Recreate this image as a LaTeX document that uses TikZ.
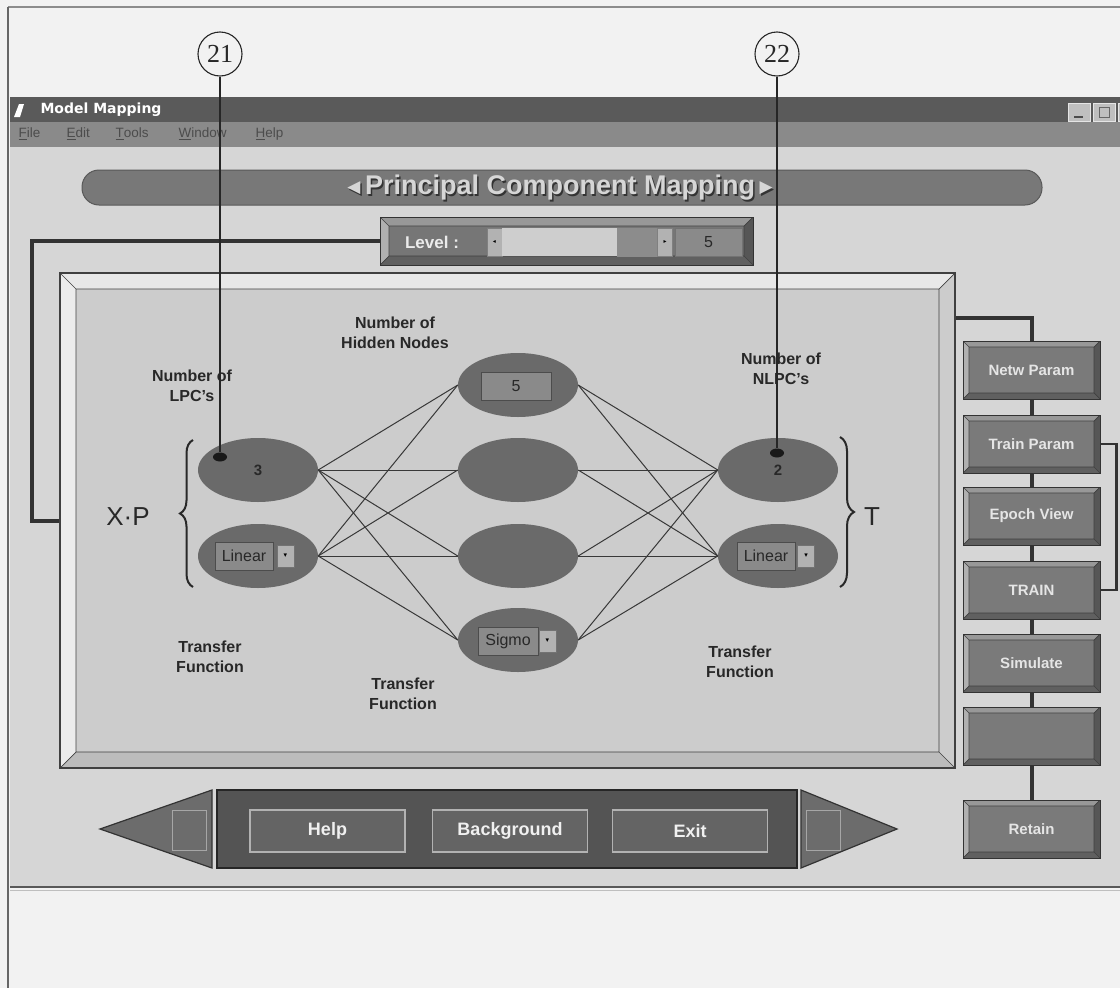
\documentclass[tikz,border=0pt]{standalone}
\usepackage{fontspec}
\setmainfont{Liberation Sans}
\newfontfamily\numfont{Liberation Serif}
\newfontfamily\symfont{DejaVu Sans}
\usetikzlibrary{shapes.geometric,decorations.pathreplacing}
\definecolor{topwhite}{RGB}{242, 242, 242}
\definecolor{winbg}{RGB}{214, 214, 214}
\definecolor{panelbg}{RGB}{204, 204, 204}
\definecolor{titlebar}{RGB}{90, 90, 90}
\definecolor{menubar}{RGB}{138, 138, 138}
\definecolor{nodegray}{RGB}{106, 106, 106}
\definecolor{pillgray}{RGB}{120, 120, 120}
\definecolor{btnface}{RGB}{122, 122, 122}
\definecolor{btnN}{RGB}{152, 152, 152}
\definecolor{btnW}{RGB}{176, 176, 176}
\definecolor{btnS}{RGB}{96, 96, 96}
\definecolor{btnE}{RGB}{86, 86, 86}
\definecolor{frN}{RGB}{232, 232, 232}
\definecolor{frW}{RGB}{236, 236, 236}
\definecolor{frS}{RGB}{188, 188, 188}
\definecolor{frE}{RGB}{204, 204, 204}
\definecolor{lvlface}{RGB}{118, 118, 118}
\definecolor{dropgray}{RGB}{138, 138, 138}
\definecolor{dropbtngray}{RGB}{178, 178, 178}
\definecolor{troughgray}{RGB}{206, 206, 206}
\definecolor{thumbgray}{RGB}{140, 140, 140}
\definecolor{navdark}{RGB}{84, 84, 84}
\definecolor{navbtngray}{RGB}{100, 100, 100}
\definecolor{navgray}{RGB}{108, 108, 108}
\definecolor{inkgray}{RGB}{40, 40, 40}

\tikzset{
  bevel colors/.code n args={4}{\colorlet{bvN}{#1}\colorlet{bvW}{#2}\colorlet{bvS}{#3}\colorlet{bvE}{#4}},
  bevel/.style={draw=black!80, line width=0.8pt, inner sep=0pt,
    path picture={
      \coordinate (bA) at (path picture bounding box.north west);
      \coordinate (bB) at (path picture bounding box.north east);
      \coordinate (bC) at (path picture bounding box.south east);
      \coordinate (bD) at (path picture bounding box.south west);
      \coordinate (iA) at ([shift={(#1pt,-#1pt)}]bA);
      \coordinate (iB) at ([shift={(-#1pt,-#1pt)}]bB);
      \coordinate (iC) at ([shift={(-#1pt,#1pt)}]bC);
      \coordinate (iD) at ([shift={(#1pt,#1pt)}]bD);
      \fill[bvN] (bA) -- (bB) -- (iB) -- (iA) -- cycle;
      \fill[bvW] (bA) -- (iA) -- (iD) -- (bD) -- cycle;
      \fill[bvS] (bD) -- (iD) -- (iC) -- (bC) -- cycle;
      \fill[bvE] (bB) -- (bC) -- (iC) -- (iB) -- cycle;
      \draw[black!75, line width=0.7pt] (iA) rectangle (iC)
        (bA) -- (iA) (bB) -- (iB) (bC) -- (iC) (bD) -- (iD);
    }},
  btn/.style={bevel=6, bevel colors={btnN}{btnW}{btnS}{btnE}, fill=btnface,
    minimum width=137, minimum height=58, text=white!90!black,
    font=\fontsize{15}{18}\selectfont\bfseries},
  unit/.style={ellipse, fill=nodegray, minimum width=120, minimum height=64,
    inner sep=0pt, font=\fontsize{15}{16}\selectfont\bfseries, text=inkgray},
  lbl/.style={align=center, font=\fontsize{16}{20}\selectfont\bfseries, text=inkgray},
  link/.style={draw=black!78, line width=1pt},
  dropbox/.style={draw=black!70, fill=dropgray, minimum height=28, inner sep=0pt,
    font=\fontsize{16}{18}\selectfont, text=inkgray},
  dropbtn/.style={draw=black!55, fill=dropbtngray, minimum width=17, minimum height=22,
    inner sep=0pt, font=\symfont\fontsize{7}{8}\selectfont},
  wire/.style={draw=black!80, line width=4pt},
  pin/.style={draw=black!85, line width=1.1pt},
  navbtn/.style={draw=black!30, line width=1.2pt, fill=navbtngray, minimum width=155,
    minimum height=42, text=white!94!black, font=\fontsize{18}{20}\selectfont\bfseries},
  menu/.style={anchor=west, text=black!70, font=\fontsize{13.5}{15}\selectfont},
  winbtn/.style={draw=white!90!black, fill=black!25, minimum width=22, minimum height=18, inner sep=0pt},
  sliderbtn/.style={draw=black!50, fill=dropbtngray, minimum width=15, minimum height=28,
    inner sep=0pt, font=\symfont\fontsize{6}{7}\selectfont},
  curly/.style={draw=inkgray, line width=2pt, decorate},
}
\newcommand{\ttlleft}{\raisebox{1.5pt}{\symfont\fontsize{17}{17}\selectfont ◀}}
\newcommand{\ttlright}{\raisebox{1.5pt}{\symfont\fontsize{17}{17}\selectfont ▶}}

\begin{document}
\begin{tikzpicture}[x=1pt, y=-1pt]
\useasboundingbox (0,0) rectangle (1120,988);
% window background
\fill[topwhite] (0,0) rectangle (1120,988);
\draw[black!45, line width=1.5pt] (8,7) -- (1120,7);
\fill[titlebar] (10,97) rectangle (1120,122);
\fill[menubar] (10,122) rectangle (1120,147);
\fill[winbg] (10,147) rectangle (1120,886);
\draw[black!65, line width=2pt] (10,887) -- (1120,887);
\draw[black!25, line width=1pt] (10,890.5) -- (1120,890.5);
\draw[black!60, line width=1.5pt] (8,7) -- (8,988);

% title bar and menu
\fill[white] (14,117) -- (19,104) -- (24,104) -- (20,117) -- cycle;
\node[anchor=west, text=white, font=\symfont\fontsize{14}{16}\selectfont\bfseries] (wname) at (37,110) {Model Mapping};
\node[winbtn] (wmin) at (1079,112) {};
\node[winbtn] (wmax) at (1104,112) {};
\node[winbtn] (wcls) at (1129,112) {};
\fill[black!70] (1074,116) rectangle (1083,118);
\draw[black!60, line width=1pt] (1099,107) rectangle (1109,117);
\node[menu] (mfile) at (15,134) {\underline{F}ile};
\node[menu] (medit) at (63,134) {\underline{E}dit};
\node[menu] (mtools) at (112,134) {\underline{T}ools};
\node[menu] (mwin) at (175,134) {\underline{W}indow};
\node[menu] (mhelp) at (252,134) {\underline{H}elp};

% heading
\node[rounded corners=17pt, fill=pillgray, draw=black!65, line width=1pt,
  minimum width=960, minimum height=35] (ttl) at (562,187.5) {};
\node[text=black!80, font=\fontsize{27}{28}\selectfont\bfseries] (ttlshade) at (561.5,189.5)
  {\ttlleft\,Principal Component Mapping\,\ttlright};
\node[text=white!84!black, font=\fontsize{27}{28}\selectfont\bfseries] (ttltext) at (560,187.5)
  {\ttlleft\,Principal Component Mapping\,\ttlright};

% level selector
\node[bevel=9, bevel colors={btnN}{btnW}{btnS}{btnE}, fill=lvlface,
  minimum width=373, minimum height=48] (lvl) at (566.5,241) {};
\node[text=white!92!black, font=\fontsize{17}{19}\selectfont\bfseries] (lvltxt) at (432,242) {Level :};
\node[sliderbtn] (sl) at (494.5,242) {◂};
\node[fill=troughgray, minimum width=115, minimum height=28, inner sep=0pt] (trough) at (559.5,242) {};
\node[fill=thumbgray, draw=black!45, minimum width=41, minimum height=28, inner sep=0pt] (thumb) at (637.5,242) {};
\node[sliderbtn] (sr) at (665,242) {▸};
\node[fill=dropgray, draw=black!55, minimum width=67, minimum height=28, inner sep=0pt,
  font=\fontsize{16}{18}\selectfont, text=inkgray] (lvlval) at (708.5,242) {5};

% main panel
\node[bevel=16, bevel colors={frN}{frW}{frS}{frE}, fill=panelbg, draw=black!75, line width=1.5pt,
  minimum width=895, minimum height=495] (frame) at (507.5,520.5) {};

% network
\node[unit] (i1) at (258,470) {3};
\node[unit] (i2) at (258,556) {};
\node[unit] (h1) at (518,385) {};
\node[unit] (h2) at (518,470) {};
\node[unit] (h3) at (518,556) {};
\node[unit] (h4) at (518,640) {};
\node[unit] (o1) at (778,470) {2};
\node[unit] (o2) at (778,556) {};
\draw[link] (i1.east) edge (h1.west);
\draw[link] (i1.east) edge (h2.west);
\draw[link] (i1.east) edge (h3.west);
\draw[link] (i1.east) edge (h4.west);
\draw[link] (i2.east) edge (h1.west);
\draw[link] (i2.east) edge (h2.west);
\draw[link] (i2.east) edge (h3.west);
\draw[link] (i2.east) edge (h4.west);
\draw[link] (h1.east) edge (o1.west);
\draw[link] (h1.east) edge (o2.west);
\draw[link] (h2.east) edge (o1.west);
\draw[link] (h2.east) edge (o2.west);
\draw[link] (h3.east) edge (o1.west);
\draw[link] (h3.east) edge (o2.west);
\draw[link] (h4.east) edge (o1.west);
\draw[link] (h4.east) edge (o2.west);
\node[dropbox, minimum width=58] (i2box) at (244,556) {Linear};
\node[dropbtn] (i2btn) at (285.5,556) {▾};
\node[dropbox, minimum width=70] (h1box) at (516,386) {5};
\node[dropbox, minimum width=60] (h4box) at (508,641) {Sigmo};
\node[dropbtn] (h4btn) at (547.5,641) {▾};
\node[dropbox, minimum width=58] (o2box) at (766,556) {Linear};
\node[dropbtn] (o2btn) at (806,556) {▾};

% labels
\node[lbl] (lhid) at (395,333) {Number of\\Hidden Nodes};
\node[lbl] (llpc) at (192,386) {Number of\\LPC’s};
\node[lbl] (lnlpc) at (781,369) {Number of\\NLPC’s};
\node[lbl] (ltf1) at (210,657) {Transfer\\Function};
\node[lbl] (ltf2) at (403,694) {Transfer\\Function};
\node[lbl] (ltf3) at (740,662) {Transfer\\Function};
\node[text=inkgray, font=\fontsize{26}{28}\selectfont] (xp) at (128,517) {X·P};
\node[text=inkgray, font=\fontsize{26}{28}\selectfont] (tt) at (872,517) {T};
\draw[curly, decoration={brace, amplitude=13pt}] (193,587) -- (193,440);
\draw[curly, decoration={brace, amplitude=14pt}] (840,437) -- (840,587);

% side buttons
\node[btn] (netw) at (1031.5,370) {Netw Param};
\node[btn] (trnp) at (1031.5,444) {Train Param};
\node[btn] (epoch) at (1031.5,516) {Epoch View};
\node[btn] (train) at (1031.5,590) {TRAIN};
\node[btn] (simu) at (1031.5,663) {Simulate};
\node[btn] (blank) at (1031.5,736) {};
\node[btn] (retain) at (1031.5,829) {Retain};

% wiring
\coordinate (lk) at (32,241);
\coordinate (rk) at (1031.5,318);
\draw[wire] (lvl.west) -- (lk) |- (frame.west);
\draw[wire] (frame.east |- rk) -- (rk) -- (netw.north);
\draw[wire] (netw.south) -- (trnp.north);
\draw[wire] (trnp.south) -- (epoch.north);
\draw[wire] (epoch.south) -- (train.north);
\draw[wire] (train.south) -- (simu.north);
\draw[wire] (simu.south) -- (blank.north);
\draw[wire] (blank.south) -- (retain.north);
\draw[wire, line width=2.5pt] (trnp.east) -- ++(16,0) |- (train.east);

% bottom navigation
\draw[black!80, line width=1.2pt, fill=navgray] (212,790) -- (100,829) -- (212,868) -- cycle;
\draw[black!35, line width=1pt] (172,810) rectangle (206,850);
\draw[black!80, line width=1.2pt, fill=navgray] (801,790) -- (897,829) -- (801,868) -- cycle;
\draw[black!35, line width=1pt] (806,810) rectangle (840,850);
\node[fill=navdark, draw=black!85, line width=2pt, minimum width=580, minimum height=78] (nav) at (507,829) {};
\node[navbtn] (bhelp) at (327.5,831) {Help};
\node[navbtn] (bback) at (510,831) {Background};
\node[navbtn] (bexit) at (690,831) {Exit};

% callouts
\node[pin, circle, minimum size=44, inner sep=0pt, fill=topwhite, text=inkgray,
  font=\numfont\fontsize{26}{28}\selectfont] (c21) at (220,54) {21};
\node[pin, circle, minimum size=44, inner sep=0pt, fill=topwhite, text=inkgray,
  font=\numfont\fontsize{26}{28}\selectfont] (c22) at (777,54) {22};
\node[ellipse, fill=black!90, minimum width=14, minimum height=9, inner sep=0pt] (d21) at (220,457) {};
\node[ellipse, fill=black!90, minimum width=14, minimum height=9, inner sep=0pt] (d22) at (777,453) {};
\draw[pin] (c21) -- (d21);
\draw[pin] (c22) -- (d22);
\end{tikzpicture}
\end{document}
